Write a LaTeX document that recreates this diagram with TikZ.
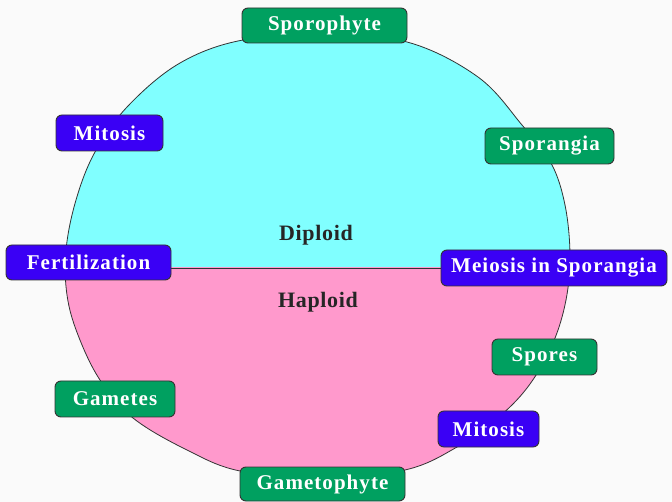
\documentclass[tikz,border=0pt]{standalone}
\usepackage{fontspec}
\setmainfont{Liberation Serif}
\definecolor{dipc}{HTML}{80FFFF}
\definecolor{hapc}{HTML}{FF99CC}
\definecolor{grn}{HTML}{00A060}
\definecolor{blu}{HTML}{3A00F5}
\definecolor{edge}{HTML}{333333}
\tikzset{
  lbl/.style={rounded corners=6pt, draw=edge, line width=0.9pt, text=white,
    font=\fontsize{21}{24}\selectfont\bfseries\addfontfeature{LetterSpace=5}, inner sep=0pt, align=center},
  gbox/.style={lbl, fill=grn},
  bbox/.style={lbl, fill=blu},
  zone/.style={font=\fontsize{22}{24}\selectfont\bfseries\addfontfeature{LetterSpace=3}, text=black!85}
}
\begin{document}
\begin{tikzpicture}[x=1pt,y=-1pt]
\useasboundingbox (0,0) rectangle (672,502);
\fill[white!98!black] (0,0) rectangle (672,502);
\def\outline{plot[smooth cycle, tension=0.6] coordinates {
 (243,40) (180,63) (128,106) (95,152) (76,200) (66,250)
 (67,295) (78,335) (100,380) (133,418) (187,450) (240,471) (322,478) (405,470)
 (457,447) (500,416) (530,384) (553,343) (566,300) (570,255) (565,205) (551,163)
 (522,125) (478,77) (407,42) (324,36)}}
\begin{scope}
  \clip (0,0) rectangle (672,268);
  \fill[dipc] \outline;
\end{scope}
\begin{scope}
  \clip (0,268) rectangle (672,502);
  \fill[hapc] \outline;
\end{scope}
\draw[edge, line width=0.8pt] \outline;
\coordinate (dl) at (65,268);
\coordinate (dr) at (445,268);
\draw[edge, line width=0.8pt] (dl) -- (dr);
\node[zone] (dip) at (316,235) {Diploid};
\node[zone] (hap) at (318,302) {Haploid};
\node[gbox, minimum width=165pt, minimum height=35pt] (spo) at (324.5,25.5) {Sporophyte};
\node[bbox, minimum width=107pt, minimum height=36pt] (mit1) at (109.5,133) {Mitosis};
\node[gbox, minimum width=129pt, minimum height=36pt] (spg) at (549.5,146) {Sporangia};
\node[bbox, minimum width=165pt, minimum height=35pt] (fer) at (88.5,262.5) {Fertilization};
\node[bbox, minimum width=226pt, minimum height=36pt] (mei) at (554,268) {Meiosis in Sporangia};
\node[gbox, minimum width=105pt, minimum height=36pt] (spr) at (544.5,357) {Spores};
\node[bbox, minimum width=101pt, minimum height=36pt] (mit2) at (488.5,429) {Mitosis};
\node[gbox, minimum width=120pt, minimum height=36pt] (gam) at (115,399) {Gametes};
\node[gbox, minimum width=165pt, minimum height=34pt] (gph) at (322.5,484) {Gametophyte};
\end{tikzpicture}
\end{document}
